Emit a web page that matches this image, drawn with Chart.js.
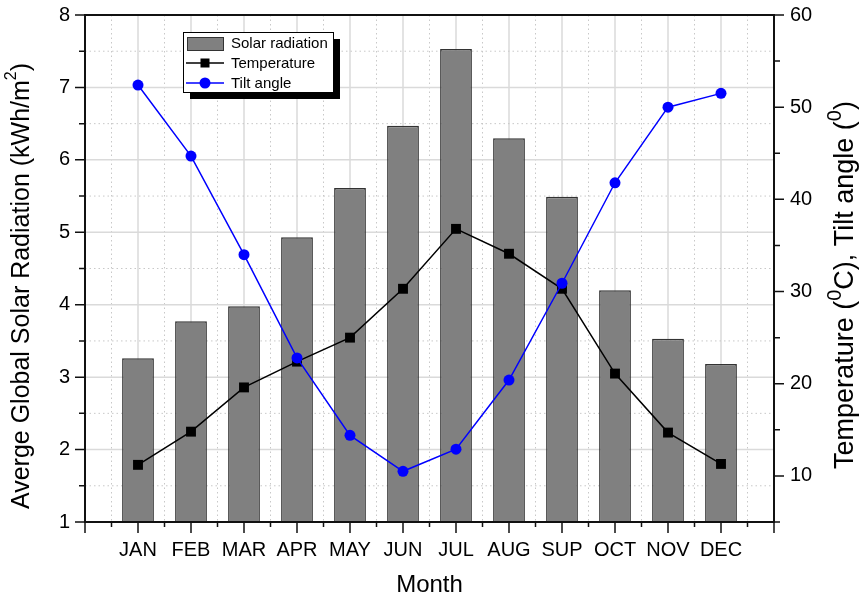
<!DOCTYPE html>
<html>
<head>
<meta charset="utf-8">
<script src="https://cdn.jsdelivr.net/npm/chart.js@4.4.1/dist/chart.umd.min.js"></script>
<style>
  html, body { margin: 0; padding: 0; background: #fff; }
  #wrap { width: 862px; height: 604px; }
</style>
</head>
<body>
<div id="wrap"><canvas id="solarChart" width="862" height="604"></canvas></div>
<script>
const months = ["JAN", "FEB", "MAR", "APR", "MAY", "JUN", "JUL", "AUG", "SUP", "OCT", "NOV", "DEC"];
const solarRadiation = [3.26, 3.77, 3.98, 4.93, 5.61, 6.47, 7.53, 6.30, 5.49, 4.20, 3.53, 3.18];
const temperature = [11.2, 14.8, 19.6, 22.4, 25.0, 30.3, 36.8, 34.1, 30.3, 21.1, 14.7, 11.3];
const tiltAngle = [52.4, 44.7, 34.0, 22.8, 14.4, 10.5, 12.9, 20.4, 30.9, 41.8, 50.0, 51.5];
const radiationTicks = [1, 2, 3, 4, 5, 6, 7, 8];
const degreeTicks = [10, 20, 30, 40, 50, 60];

const FONT = "'Liberation Sans', Arial, sans-serif";
Chart.defaults.font.family = FONT;
Chart.defaults.color = "#000";

// empty slot on each side so the months sit one step in from the frame
const padded = arr => [null, ...arr, null];

function drawRotatedTitle(ctx, parts, cx, cy, size, supScale) {
    const main = size + "px " + FONT;
    const sup = Math.round(size * supScale) + "px " + FONT;
    ctx.save();
    ctx.translate(cx, cy);
    ctx.rotate(-Math.PI / 2);
    ctx.textBaseline = "middle";
    ctx.textAlign = "left";
    ctx.fillStyle = "#000";
    let total = 0;
    parts.forEach(p => { ctx.font = p.sup ? sup : main; total += ctx.measureText(p.text).width; });
    let x = -total / 2;
    parts.forEach(p => {
        ctx.font = p.sup ? sup : main;
        ctx.fillText(p.text, x, p.sup ? -size * 0.4 : 0);
        x += ctx.measureText(p.text).width;
    });
    ctx.restore();
}

function drawLegend(chart) {
    const ctx = chart.ctx;
    const box = { x: 183, y: 32, w: 150, h: 60 };
    ctx.save();
    // drop shadow, then the box
    ctx.fillStyle = "#000";
    ctx.fillRect(box.x + 7, box.y + 7, box.w, box.h);
    ctx.fillStyle = "#fff";
    ctx.fillRect(box.x, box.y, box.w, box.h);
    ctx.strokeStyle = "#000";
    ctx.lineWidth = 1;
    ctx.strokeRect(box.x + 0.5, box.y + 0.5, box.w, box.h);

    const items = chart.data.datasets.slice().sort((a, b) => b.order - a.order);
    ctx.font = "15px " + FONT;
    ctx.textBaseline = "middle";
    ctx.textAlign = "left";
    items.forEach((ds, i) => {
        const cy = box.y + 11 + i * 20;
        if (ds.type === "bar") {
            ctx.fillStyle = ds.backgroundColor;
            ctx.fillRect(box.x + 4, cy - 6, 36, 13);
            ctx.strokeStyle = ds.borderColor;
            ctx.lineWidth = 1;
            ctx.strokeRect(box.x + 4.5, cy - 5.5, 36, 13);
        } else {
            ctx.strokeStyle = ds.borderColor;
            ctx.lineWidth = ds.borderWidth;
            ctx.beginPath();
            ctx.moveTo(box.x + 3, cy);
            ctx.lineTo(box.x + 41, cy);
            ctx.stroke();
            ctx.fillStyle = ds.backgroundColor;
            if (ds.pointStyle === "rect") {
                ctx.fillRect(box.x + 22 - 4.5, cy - 4.5, 9, 9);
            } else {
                ctx.beginPath();
                ctx.arc(box.x + 22, cy, 5.5, 0, Math.PI * 2);
                ctx.fill();
            }
        }
        ctx.fillStyle = "#000";
        ctx.fillText(ds.label, box.x + 48, cy + 1);
    });
    ctx.restore();
}

const frame = {
    id: "frame",
    beforeDatasetsDraw(chart) {
        const { ctx, chartArea: a, scales: { x, y } } = chart;
        ctx.save();
        const line = (x1, y1, x2, y2, dotted) => {
            ctx.setLineDash(dotted ? [1.5, 3] : []);
            ctx.strokeStyle = dotted ? "#c8c8c8" : "#dadada";
            ctx.lineWidth = dotted ? 1 : 1.5;
            ctx.beginPath();
            ctx.moveTo(x1, y1);
            ctx.lineTo(x2, y2);
            ctx.stroke();
        };
        for (let i = 0; i <= months.length + 1; i += 0.5) {
            const px = x.getPixelForValue(i);
            line(px, a.top, px, a.bottom, i % 1 !== 0);
        }
        for (let v = 1; v <= 8; v += 0.5) {
            const py = y.getPixelForValue(v);
            line(a.left, py, a.right, py, v % 1 !== 0);
        }
        ctx.restore();
    },
    afterDraw(chart) {
        const { ctx, chartArea: a, scales: { x, y, yRight } } = chart;
        ctx.save();
        ctx.strokeStyle = "#111";
        ctx.lineWidth = 2;
        ctx.strokeRect(a.left, a.top, a.right - a.left, a.bottom - a.top);
        ctx.lineWidth = 1.5;
        ctx.beginPath();
        for (let v = 1; v <= 8; v += 0.5) {
            const py = y.getPixelForValue(v);
            ctx.moveTo(a.left - (v % 1 === 0 ? 10 : 6), py);
            ctx.lineTo(a.left, py);
        }
        for (let v = 5; v <= 60; v += 5) {
            const py = yRight.getPixelForValue(v);
            ctx.moveTo(a.right, py);
            ctx.lineTo(a.right + (v % 10 === 0 ? 10 : 6), py);
        }
        for (let i = 0; i <= months.length + 1; i += 0.5) {
            const px = x.getPixelForValue(i);
            ctx.moveTo(px, a.bottom);
            ctx.lineTo(px, a.bottom + (i % 1 === 0 ? 11 : 5));
        }
        ctx.stroke();
        ctx.restore();

        drawRotatedTitle(ctx, [
            { text: "Averge Global Solar Radiation (kWh/m" },
            { text: "2", sup: true },
            { text: ")" }
        ], 22, 286, 25, 0.62);
        drawRotatedTitle(ctx, [
            { text: "Temperature (" },
            { text: "0", sup: true },
            { text: "C), Tilt angle (" },
            { text: "0", sup: true },
            { text: ")" }
        ], 846, 285, 27, 0.75);

        drawLegend(chart);
    }
};

// vertical axes: fixed width, no extra room reserved above/below for end labels
const fixVertical = width => s => {
    s.width = width;
    s.paddingTop = 0;
    s.paddingBottom = 0;
};

new Chart(document.getElementById("solarChart"), {
    type: "bar",
    data: {
        labels: ["", ...months, ""],
        datasets: [
            {
                type: "line",
                label: "Tilt angle",
                data: padded(tiltAngle),
                yAxisID: "yRight",
                borderColor: "#0000ff",
                backgroundColor: "#0000ff",
                borderWidth: 1.5,
                pointStyle: "circle",
                pointRadius: 5.5,
                pointBorderWidth: 0,
                order: 0
            },
            {
                type: "line",
                label: "Temperature",
                data: padded(temperature),
                yAxisID: "yRight",
                borderColor: "#000",
                backgroundColor: "#000",
                borderWidth: 1.5,
                pointStyle: "rect",
                pointRadius: 7,
                pointBorderWidth: 0,
                order: 1
            },
            {
                type: "bar",
                label: "Solar radiation",
                data: padded(solarRadiation),
                yAxisID: "y",
                backgroundColor: "#808080",
                borderColor: "#333",
                borderWidth: 1.5,
                barPercentage: 0.6,
                categoryPercentage: 1,
                order: 2
            }
        ]
    },
    options: {
        responsive: false,
        animation: false,
        layout: { padding: { top: 15 } },
        plugins: { legend: { display: false }, tooltip: { enabled: false } },
        scales: {
            x: {
                type: "category",
                offset: false,
                grid: { display: false, drawTicks: false },
                border: { display: false },
                ticks: { font: { size: 20 }, padding: 16, maxRotation: 0, autoSkip: false },
                title: { display: true, text: "Month", font: { size: 24 }, padding: { bottom: 4 } },
                afterFit: s => { s.height = 82; s.paddingLeft = 0; s.paddingRight = 0; }
            },
            y: {
                position: "left",
                min: 1,
                max: 8,
                grid: { display: false, drawTicks: false },
                border: { display: false },
                ticks: { font: { size: 20 }, padding: 15 },
                afterBuildTicks: s => { s.ticks = radiationTicks.map(v => ({ value: v })); },
                afterFit: fixVertical(85)
            },
            yRight: {
                position: "right",
                min: 5,
                max: 60,
                grid: { display: false, drawTicks: false },
                border: { display: false },
                ticks: { font: { size: 20 }, padding: 16 },
                afterBuildTicks: s => { s.ticks = degreeTicks.map(v => ({ value: v })); },
                afterFit: fixVertical(88)
            }
        }
    },
    plugins: [frame]
});
</script>
</body>
</html>
